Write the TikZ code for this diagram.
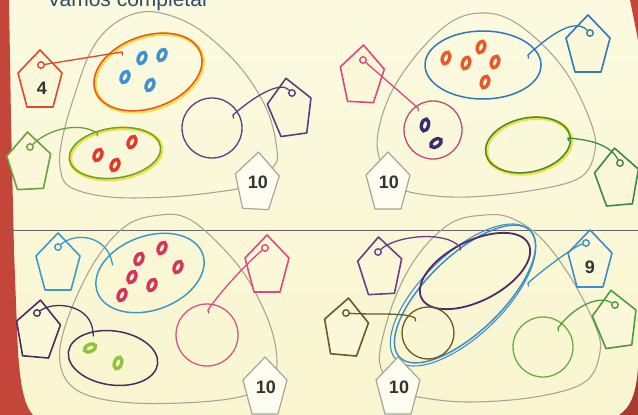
\documentclass[tikz,border=0pt]{standalone}
\usepackage{fontspec}
\setmainfont{Liberation Sans}
\usetikzlibrary{shapes.geometric}
\definecolor{bgtop}{HTML}{FBFAE0}
\definecolor{bgbot}{HTML}{F9F5CF}
\definecolor{bg}{HTML}{FAF8D9}
\definecolor{pagered}{HTML}{C4463A}
\definecolor{grayl}{HTML}{A9A598}
\definecolor{titlec}{HTML}{2E4A66}
\definecolor{digit}{HTML}{333333}
\definecolor{halo}{HTML}{F2DF45}
\definecolor{ovfill}{HTML}{FFF4CF}
\definecolor{redA}{HTML}{E4462C}
\definecolor{orangeA}{HTML}{E8562A}
\definecolor{blueA}{HTML}{3C92D2}
\definecolor{greenA}{HTML}{6AA33A}
\definecolor{redoval}{HTML}{E3392A}
\definecolor{purpleA}{HTML}{5D3B8C}
\definecolor{pinkB}{HTML}{D84A80}
\definecolor{pinkBc}{HTML}{C04A78}
\definecolor{dpurple}{HTML}{3B2B70}
\definecolor{blueB}{HTML}{2F78BC}
\definecolor{orangeoval}{HTML}{E9582A}
\definecolor{greenB}{HTML}{3C8B3E}
\definecolor{blueC}{HTML}{3A9BCB}
\definecolor{pinkoval}{HTML}{D6335C}
\definecolor{purpleC}{HTML}{4A2D5E}
\definecolor{greenoval}{HTML}{8CC43C}
\definecolor{pinkCc}{HTML}{D1558E}
\definecolor{pinkC}{HTML}{DE4A80}
\definecolor{purpleD}{HTML}{6A3E8C}
\definecolor{purpleDe}{HTML}{4F2A6E}
\definecolor{blueD}{HTML}{3C8ECA}
\definecolor{brownD}{HTML}{6A5A26}
\definecolor{greenD}{HTML}{6AAF42}
\definecolor{greenDp}{HTML}{4E9C3E}
\newcommand\tagpent[5]{%
  \begin{scope}[shift={(#2,#3)},rotate=#4]
    \draw[#5] (0,-29) -- (22,-6) -- (13,28) -- (-13,28) -- (-22,-6) -- cycle;
    \coordinate (#1) at (0,0);
  \end{scope}}
\newcommand\ovalmark[5]{%
  \coordinate (#1) at (#2,#3);
  \draw[ovalline=#5, rotate around={#4:(#1)}] (#1) ellipse [x radius=3.5, y radius=6];}
\tikzset{
  grayset/.style={draw=grayl, line width=1.1pt},
  pent/.style={draw=#1, line width=1.6pt, fill=bg, line join=round},
  numpent/.style={draw=grayl, line width=1.2pt, fill=white!60!bg, line join=round},
  ring/.style={circle, draw=#1, line width=1.4pt, minimum size=6.5pt, inner sep=0pt},
  setell/.style={ellipse, draw=#1, line width=1.5pt, inner sep=0pt},
  setcirc/.style={circle, draw=#1, line width=1.3pt, inner sep=0pt},
  haloell/.style={ellipse, draw=halo, line width=3.6pt, inner sep=0pt},
  ovalline/.style={draw=#1, line width=3.4pt, fill=ovfill},
  conn/.style={draw=#1, line width=1.3pt, line cap=round},
  num/.style={font=\bfseries\fontsize{18}{18}\selectfont, text=digit, inner sep=0pt},
}
\begin{document}
\begin{tikzpicture}[x=1pt,y=-1pt]
\useasboundingbox (0,0) rectangle (638,415);
\clip (0,0) rectangle (638,415);
\shade[top color=bgtop, bottom color=bgbot] (0,0) rectangle (638,415);
% page edges
\fill[pagered] (0,0) -- (9,0) -- (11,120) -- (14,250) -- (17,330)
  .. controls (19,385) and (24,405) .. (33,415) -- (0,415) -- cycle;
\fill[pagered] (630,0) -- (638,0) -- (638,40) -- cycle;
\fill[pagered!85!black] (638,368) .. controls (636,395) and (630,408) .. (619,415) -- (638,415) -- cycle;
% title (cut off at the top edge, as in the original)
\node[anchor=base west, font=\fontsize{21}{21}\selectfont, text=titlec, inner sep=0pt] (title) at (47,6) {Vamos completar};
% separator
\draw[black!60, line width=0.7pt] (9,230) -- (638,230);

% ================= Panel 1 =================
\draw[grayset] plot[smooth cycle, tension=0.6] coordinates {(137,13) (110,27) (90,53) (73,100) (62,140) (60,167) (70,187) (110,197) (167,197) (217,192) (245,186) (273,167) (277,150) (267,110) (240,67) (200,30) (165,14)};
\node[haloell, minimum width=112pt, minimum height=72pt, rotate=20] (e1ah) at (149,73) {};
\node[setell=orangeA, minimum width=112pt, minimum height=72pt, rotate=20] (e1a) at (148,72) {};
\ovalmark{o1a}{125}{77}{-25}{blueA}
\ovalmark{o1b}{142}{58}{-25}{blueA}
\ovalmark{o1c}{162}{55}{-25}{blueA}
\ovalmark{o1d}{150}{85}{-25}{blueA}
\node[haloell, minimum width=92pt, minimum height=50pt, rotate=8] (e1bh) at (116,154) {};
\node[setell=greenA, minimum width=92pt, minimum height=50pt, rotate=8] (e1b) at (115,153) {};
\ovalmark{o1e}{98}{155}{-25}{redoval}
\ovalmark{o1f}{115}{165}{-25}{redoval}
\ovalmark{o1g}{132}{142}{-25}{redoval}
\node[setcirc=purpleA, minimum size=60pt] (c1c) at (212,128) {};
\tagpent{p1a}{40}{79}{0}{pent=redA}
\tagpent{p1b}{29}{161}{3}{pent=greenA}
\tagpent{p1c}{290}{107}{8}{pent=purpleA}
\tagpent{p1d}{257}{181}{-3}{numpent}
\node[num] (t1a) at (42,88) {4};
\node[num] (t1d) at (258,182) {10};
\node[ring=redA] (r1a) at (41,65) {};
\node[ring=greenA] (r1b) at (30,147) {};
\node[ring=purpleA] (r1c) at (292,93) {};
\coordinate (k1a) at (122,52);
\coordinate (k1b) at (97,133);
\coordinate (k1c) at (233,115);
\draw[conn=redA] (r1a) -- (k1a) -- ++(0.5,3);
\draw[conn=greenA] (r1b) .. controls (50,128) and (80,122) .. (k1b) -- ++(0.5,3);
\draw[conn=purpleA] (r1c) .. controls (280,80) and (252,98) .. (k1c) -- ++(0.5,3);

% ================= Panel 2 =================
\draw[grayset] plot[smooth cycle, tension=0.6] coordinates {(481,13) (451,22) (418,53) (391,93) (378,133) (380,160) (395,185) (420,194) (468,197) (535,190) (581,177) (595,150) (591,123) (571,80) (545,47) (511,20)};
\node[setcirc=pinkBc, minimum size=58pt] (c2a) at (433,130) {};
\ovalmark{o2a}{425}{125}{-15}{dpurple}
\ovalmark{o2b}{436}{143}{-55}{dpurple}
\node[setell=blueB, minimum width=116pt, minimum height=68pt] (e2b) at (483,65) {};
\ovalmark{o2c}{446}{58}{-20}{orangeoval}
\ovalmark{o2d}{466}{63}{-20}{orangeoval}
\ovalmark{o2e}{481}{47}{-20}{orangeoval}
\ovalmark{o2f}{495}{62}{-20}{orangeoval}
\ovalmark{o2g}{485}{82}{-20}{orangeoval}
\node[haloell, minimum width=86pt, minimum height=54pt, rotate=12] (e2ch) at (529,146) {};
\node[setell=greenB, minimum width=86pt, minimum height=54pt, rotate=12] (e2c) at (528,145) {};
\tagpent{p2a}{362}{74}{-3}{pent=pinkB}
\tagpent{p2b}{588}{44}{0}{pent=blueB}
\tagpent{p2c}{617}{177}{5}{pent=greenB}
\tagpent{p2d}{388}{181}{0}{numpent}
\node[num] (t2d) at (389,182) {10};
\node[ring=pinkB] (r2a) at (363,60) {};
\node[ring=blueB] (r2b) at (590,33) {};
\node[ring=greenB] (r2c) at (620,163) {};
\coordinate (k2a) at (418,108);
\coordinate (k2b) at (528,55);
\coordinate (k2c) at (568,138);
\draw[conn=pinkB] (r2a) -- (k2a) -- ++(0.5,3);
\draw[conn=blueB] (r2b) .. controls (575,18) and (552,33) .. (k2b) -- ++(0.5,3);
\draw[conn=greenB] (r2c) .. controls (610,145) and (592,140) .. (k2c) -- ++(0.5,3);

% ================= Panel 3 =================
\draw[grayset] plot[smooth cycle, tension=0.6] coordinates {(160,215) (127,225) (97,258) (73,305) (60,348) (65,378) (87,395) (133,403) (200,402) (247,395) (270,380) (277,362) (270,325) (247,278) (217,242) (187,218)};
\node[setell=blueC, minimum width=112pt, minimum height=74pt, rotate=20] (e3a) at (150,273) {};
\ovalmark{o3a}{122}{295}{-25}{pinkoval}
\ovalmark{o3b}{132}{277}{-25}{pinkoval}
\ovalmark{o3c}{139}{259}{-25}{pinkoval}
\ovalmark{o3d}{152}{285}{-25}{pinkoval}
\ovalmark{o3e}{162}{248}{-25}{pinkoval}
\ovalmark{o3f}{178}{267}{-25}{pinkoval}
\node[setell=purpleC, minimum width=90pt, minimum height=54pt, rotate=-8] (e3b) at (113,358) {};
\ovalmark{o3g}{90}{348}{-65}{greenoval}
\ovalmark{o3h}{118}{363}{-20}{greenoval}
\node[setcirc=pinkCc, minimum size=62pt] (c3c) at (207,335) {};
\tagpent{p3a}{58}{262}{0}{pent=blueC}
\tagpent{p3b}{38}{329}{-5}{pent=purpleC}
\tagpent{p3c}{267}{264}{0}{pent=pinkC}
\tagpent{p3d}{265}{386}{0}{numpent}
\node[num] (t3d) at (266,387) {10};
\node[ring=blueC] (r3a) at (58,247) {};
\node[ring=purpleC] (r3b) at (37,313) {};
\node[ring=pinkC] (r3c) at (265,248) {};
\coordinate (k3a) at (112,262);
\coordinate (k3b) at (93,333);
\coordinate (k3c) at (208,310);
\draw[conn=blueC] (r3a) .. controls (75,232) and (106,235) .. (k3a) -- ++(0.5,3);
\draw[conn=purpleC] (r3b) .. controls (55,300) and (92,305) .. (k3b) -- ++(0.5,3);
\draw[conn=pinkC] (r3c) .. controls (255,256) and (225,285) .. (k3c) -- ++(0.5,3);

% ================= Panel 4 =================
\draw[grayset] plot[smooth cycle, tension=0.6] coordinates {(485,215) (451,223) (418,255) (395,298) (381,345) (381,368) (395,390) (418,397) (468,402) (535,397) (585,382) (600,352) (595,325) (571,278) (541,238) (511,218)};
\node[setell=blueD, minimum width=182pt, minimum height=76pt, rotate=44] (e4a) at (465,294) {};
\node[setell=blueD, line width=1.1pt, minimum width=186pt, minimum height=82pt, rotate=44] (e4a2) at (463,295) {};
\node[setell=purpleDe, line width=1.8pt, minimum width=120pt, minimum height=60pt, rotate=27] (e4b) at (475,271) {};
\node[setcirc=brownD, minimum size=52pt] (c4c) at (428,333) {};
\node[setcirc=greenD, minimum size=60pt] (c4d) at (543,347) {};
\tagpent{p4a}{380}{266}{3}{pent=purpleD}
\tagpent{p4b}{346}{327}{-5}{pent=brownD}
\tagpent{p4c}{590}{259}{0}{pent=blueD}
\tagpent{p4d}{615}{319}{8}{pent=greenDp}
\tagpent{p4e}{398}{386}{0}{numpent}
\node[num] (t4c) at (590,267) {9};
\node[num] (t4e) at (399,387) {10};
\node[ring=purpleD] (r4a) at (378,252) {};
\node[ring=brownD] (r4b) at (346,313) {};
\node[ring=blueD] (r4c) at (586,243) {};
\node[ring=greenDp] (r4d) at (615,305) {};
\coordinate (k4a) at (460,247);
\coordinate (k4b) at (415,318);
\coordinate (k4c) at (528,283);
\coordinate (k4d) at (558,328);
\draw[conn=purpleD] (r4a) .. controls (395,236) and (445,230) .. (k4a) -- ++(0.5,3);
\draw[conn=brownD] (r4b) .. controls (370,315) and (405,312) .. (k4b) -- ++(0.5,3);
\draw[conn=blueD] (r4c) .. controls (575,246) and (545,268) .. (k4c) -- ++(0.5,3);
\draw[conn=greenDp] (r4d) .. controls (600,295) and (575,305) .. (k4d) -- ++(0.5,3);
\end{tikzpicture}
\end{document}
